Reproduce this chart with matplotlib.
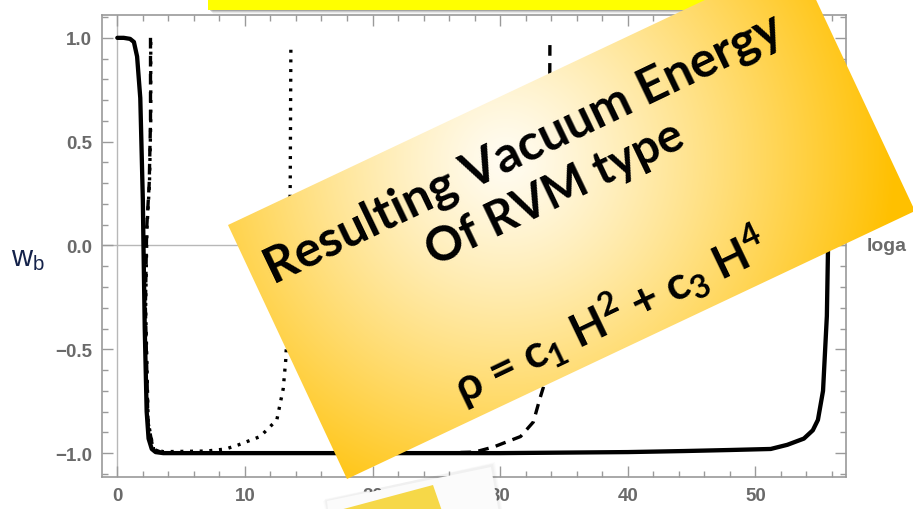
import numpy as np
import matplotlib
matplotlib.use("Agg")
import matplotlib.pyplot as plt
from matplotlib.patches import Polygon, Rectangle
from matplotlib.colors import to_rgb
from matplotlib.ticker import MultipleLocator

# w_b(loga) for the three runs
loga_solid = [0.0, 0.5, 1.0, 1.3, 1.55, 1.8, 2.0, 2.05, 2.15, 2.3, 2.45, 2.7, 3.0, 3.6,
              10.0, 20.0, 30.0, 40.0, 44.4, 48.0, 51.2, 52.5, 53.8, 54.5, 54.9,
              55.3, 55.6, 55.75, 55.85, 55.9]
w_solid = [1.0, 1.0, 0.995, 0.98, 0.91, 0.71, 0.22, 0.0, -0.4, -0.8, -0.93, -0.98,
           -0.995, -1.0, -1.0, -1.0, -1.0, -0.995, -0.99, -0.985, -0.98, -0.96,
           -0.93, -0.89, -0.84, -0.70, -0.34, 0.2, 0.7, 1.0]

loga_dashed = [2.6, 2.6, 2.5, 2.3, 2.2, 2.4, 2.8, 3.6, 25.0, 28.0, 29.5, 31.6, 32.6,
               33.1, 33.5, 33.75, 33.85, 33.9]
w_dashed = [1.0, 0.6, 0.3, 0.08, -0.3, -0.85, -0.98, -1.0, -1.0, -0.995, -0.97,
            -0.92, -0.85, -0.74, -0.66, -0.3, 0.3, 1.0]

loga_dotted = [2.62, 2.62, 2.52, 2.32, 2.22, 2.42, 2.82, 3.6, 7.0, 8.5, 9.5, 11.2,
               12.5, 13.0, 13.2, 13.45, 13.55, 13.6]
w_dotted = [0.98, 0.6, 0.3, 0.08, -0.3, -0.85, -0.98, -0.993, -0.99, -0.98, -0.96,
            -0.92, -0.84, -0.69, -0.55, -0.2, 0.3, 0.96]

xticks = [0, 10, 20, 30, 40, 50]
yticks = [-1.0, -0.5, 0.0, 0.5, 1.0]

W, H = 913, 510
fig = plt.figure(figsize=(W / 100, H / 100), dpi=100)
ax = fig.add_axes([102 / W, 32 / H, 744 / W, 462 / H])

ax.axhline(0, color="#b8b8b8", lw=1.0, zorder=1)
ax.axvline(0, color="#b8b8b8", lw=1.0, zorder=1)
ax.plot(loga_solid, w_solid, color="black", lw=3.1, solid_capstyle="round", zorder=3)
ax.plot(loga_dashed, w_dashed, color="black", lw=2.4, dashes=(3.2, 2.2), zorder=3)
ax.plot(loga_dotted, w_dotted, color="black", lw=2.4, dashes=(0.9, 2.0), zorder=3)

ax.set_xlim(-1.2, 57.1)
ax.set_ylim(-1.115, 1.11)
ax.set_xticks(xticks)
ax.set_yticks(yticks)
ax.xaxis.set_minor_locator(MultipleLocator(2))
ax.yaxis.set_minor_locator(MultipleLocator(0.1))
ax.set_xticklabels([str(v) for v in xticks])
ax.set_yticklabels([f"{v:.1f}".replace("-", "\u2212") for v in yticks])
ax.tick_params(which="both", direction="in", top=True, right=True, color="#9a9a9a",
               width=1.0, labelcolor="#6a6a6a", labelsize=13.5)
ax.tick_params(which="major", length=8, pad=7)
ax.tick_params(which="minor", length=4.5)
for lab in ax.get_xticklabels() + ax.get_yticklabels():
    lab.set_fontfamily("Liberation Sans")
    lab.set_fontweight("bold")
for sp in ax.spines.values():
    sp.set_color("#9a9a9a")
    sp.set_linewidth(1.2)

ax.text(1.028, 0.0, "loga", transform=ax.get_yaxis_transform(), ha="left", va="center",
        fontsize=14, fontweight="bold", color="#6a6a6a", family="Liberation Sans",
        clip_on=False)
fig.text(11 / W, 1 - 259 / H, r"w$_\mathregular{b}$", ha="left", va="center",
         fontsize=21, color="#14224a", family="Liberation Sans")

# overlay layer in pixel units for the slide boxes
ov = fig.add_axes([0, 0, 1, 1], zorder=5)
ov.patch.set_alpha(0)

# yellow banner at the top, with a soft shadow
for k, a in enumerate([0.18, 0.12, 0.07, 0.03]):
    ov.add_patch(Rectangle((210 + k, 11), 530, 1.2 + k, color="black", alpha=a, lw=0))
ov.add_patch(Rectangle((208, -5), 529, 16, color="#ffff00", lw=0))

# rotated note card with radial gold gradient
corners = [(228, 226), (796, -42), (915, 212), (347, 480)]
yy, xx = np.mgrid[0:H, 0:W]
t = np.clip(np.hypot(xx - 505, yy - 160) / 390.0, 0, 1) ** 1.2
c0 = np.array(to_rgb("#fffcf2"))
c1 = np.array(to_rgb("#ffc000"))
img = c0[None, None, :] * (1 - t[..., None]) + c1[None, None, :] * t[..., None]
card = Polygon(corners, closed=True, facecolor="none", edgecolor="none",
               transform=ov.transData)
ov.add_patch(card)
im = ov.imshow(img, extent=(0, W, H, 0), origin="upper", aspect="auto",
               interpolation="bilinear", zorder=2)
im.set_clip_path(card)

ang = 25.6
txt = dict(rotation=ang, rotation_mode="anchor", ha="center", va="center",
           color="black", family=["Lato", "DejaVu Sans"], fontweight="bold", zorder=4)
ux, uy = np.cos(np.radians(ang)), -np.sin(np.radians(ang))
nx, ny = -np.sin(np.radians(ang)), -np.cos(np.radians(ang))
cx, cy = 571, 219
for (u, v, s, fs) in [(-12, 84, "Resulting Vacuum Energy", 36),
                      (-4, 30, "Of RVM type", 34),
                      (-6, -105, r"ρ = c$_\mathregular{1}$ H$^\mathregular{2}$ + c$_\mathregular{3}$ H$^\mathregular{4}$", 33)]:
    ov.text(cx + u * ux + v * nx, cy + u * uy + v * ny, s, fontsize=fs, **txt)

# white card with a yellow strip at the bottom edge
for k, a in enumerate([0.025, 0.02, 0.015]):
    ov.add_patch(Polygon([(325 - k, 500 + k), (493 + k, 465 - k), (502 + k, 520), (330, 530)],
                         closed=True, color="black", alpha=a, lw=0, zorder=6))
ov.add_patch(Polygon([(327, 502), (491, 468), (500, 520), (330, 530)], closed=True,
                     color="#fbfbfb", lw=0, zorder=7))
ov.add_patch(Polygon([(336, 512), (433, 486), (442, 512)], closed=True,
                     color="#f6d848", lw=0, zorder=8))

ov.set_xlim(0, W)
ov.set_ylim(H, 0)
ov.axis("off")

fig.savefig("out.png", dpi=100)
